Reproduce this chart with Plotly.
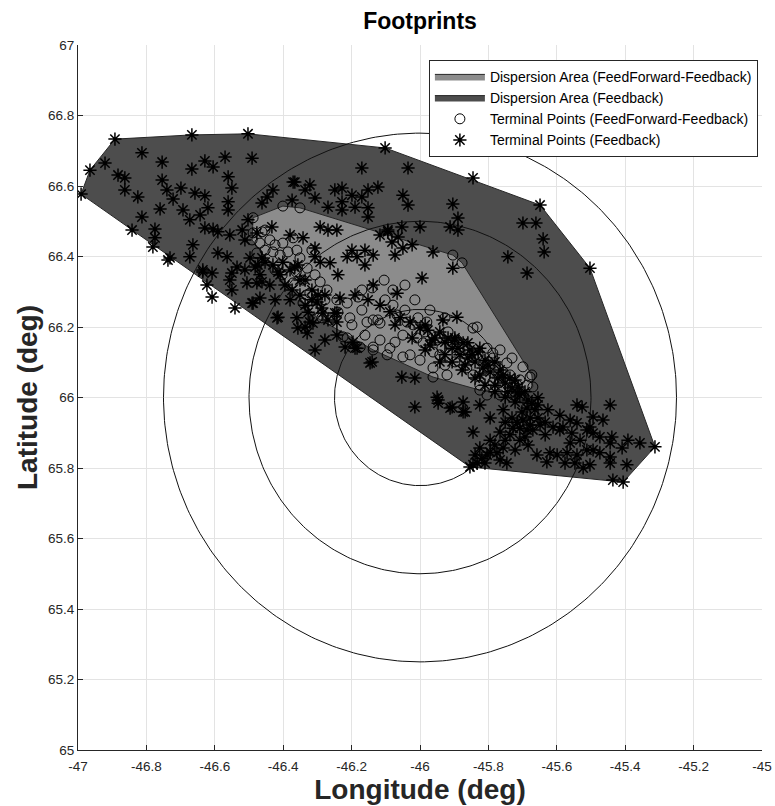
import numpy as np
import plotly.graph_objects as go

# ---------------- data ----------------
# Dispersion area (Feedback) hull, lon/lat in degrees
fb_hull_lon = [-46.991, -46.965, -46.892, -46.667, -46.503, -46.102, -45.649, -45.503,
               -45.313, -45.406, -45.854, -46.842, -46.991]
fb_hull_lat = [66.577, 66.645, 66.733, 66.745, 66.748, 66.708, 66.546, 66.367,
               65.860, 65.760, 65.803, 66.475, 66.577]

# Dispersion area (FeedForward-Feedback) hull
ff_hull_lon = [-46.488, -46.401, -46.351, -45.904, -45.877, -45.673, -45.670, -45.702,
               -45.825, -45.962, -46.137, -46.301, -46.424, -46.491, -46.488]
ff_hull_lat = [66.510, 66.543, 66.538, 66.404, 66.382, 66.064, 66.030, 65.999,
               66.021, 66.058, 66.135, 66.226, 66.362, 66.447, 66.510]

# Terminal points (Feedback)  -- asterisks
fb_lon = [-46.892, -46.667, -46.503, -46.102, -46.965, -46.991, -46.921, -46.813, -46.754, -46.667,
          -46.629, -46.605, -46.570, -46.491, -46.883, -46.863, -46.863, -46.825, -46.754, -46.740,
          -46.722, -46.699, -46.760, -46.693, -46.673, -46.658, -46.629, -46.643, -46.620, -46.561,
          -46.550, -46.561, -46.561, -46.813, -46.842, -46.775, -46.775, -46.781, -46.731, -46.673,
          -46.664, -46.629, -46.605, -46.591, -46.556, -46.520, -46.503, -46.512, -46.477, -46.635,
          -46.608, -46.623, -46.591, -46.564, -46.550, -46.535, -46.506, -46.482, -46.477, -46.550,
          -46.608, -46.541, -46.491, -46.462, -46.415, -46.360, -46.336, -46.313, -46.278, -46.366,
          -46.322, -46.336, -46.249, -46.228, -46.307, -46.269, -46.228, -46.228, -46.199, -46.170,
          -46.152, -46.123, -46.152, -46.152, -46.190, -46.170, -46.035, -46.050, -46.035, -46.094,
          -46.064, -46.053, -46.000, -46.430, -46.447, -46.462, -46.374, -46.371,
          -45.649, -45.503, -45.845, -45.699, -45.661, -45.640, -45.687, -45.743, -45.904, -45.889,
          -45.912, -45.889, -45.637,
          -46.433, -46.292, -46.269, -46.243, -46.307, -46.307, -46.292, -46.263, -46.240, -46.213,
          -46.199, -46.184, -46.161, -46.137, -46.161, -46.117, -46.094, -46.082, -46.050, -46.023,
          -46.073, -45.962, -45.994, -45.904, -46.137, -46.067, -46.190, -46.234, -46.243, -46.284,
          -46.243, -46.243, -46.196, -46.184, -46.140, -45.933, -45.892, -45.825, -45.898, -45.860,
          -46.380, -46.342, -46.366, -46.415, -46.316, -46.301, -46.278,
          -46.737, -46.635, -46.556, -46.488, -46.468, -46.418, -46.357, -46.330, -46.322, -46.307,
          -46.249, -46.219, -46.190, -46.146, -46.053, -46.015, -45.950, -45.947, -46.015, -45.906,
          -45.874, -45.845, -45.845,
          -45.947, -45.912, -45.874, -45.868, -45.795, -45.825, -45.757, -45.716, -45.655, -45.664,
          -45.626, -45.541, -45.526, -45.494, -45.465, -45.444, -45.582, -45.541, -45.503, -45.512,
          -45.532, -45.474, -45.439, -45.392, -45.357, -45.409, -45.313, -45.620, -45.599, -45.570,
          -45.541, -45.512, -45.494, -45.474, -45.444, -45.629, -45.576, -45.547, -45.503, -45.523,
          -45.444, -45.395, -45.436, -45.406, -45.658, -45.670, -45.699, -45.591, -45.494, -45.444,
          -45.561, -45.556, -45.854, -45.833, -45.810, -45.775, -45.746, -45.757, -45.708, -45.728,
          -45.687, -45.649, -45.611, -45.819, -45.795, -45.781, -45.751, -45.737, -45.716, -45.678,
          -45.702, -45.634, -45.684, -45.722, -45.766,
          -46.058, -46.029, -46.000, -45.977, -45.956, -45.927, -45.906, -45.883, -45.860, -45.839,
          -45.816, -45.795, -45.772, -45.751, -45.731, -45.708, -45.684, -45.942, -45.898, -45.854,
          -45.810, -45.766, -45.722, -45.868, -45.825, -45.781, -45.743, -46.088, -46.117, -46.152,
          -46.073, -45.971, -45.927,
          -46.453, -46.409, -46.395, -46.374, -46.351, -46.439, -46.380, -46.336, -46.424, -46.468,
          -45.985, -45.965, -45.918, -45.889, -45.874, -45.848, -45.830, -45.801, -45.781, -45.757,
          -45.737, -45.713, -45.693, -45.673, -45.655, -45.687, -45.722, -45.751, -45.781, -45.810,
          -45.839, -45.877, -45.906, -45.942, -45.985, -46.023,
          -45.751, -45.731, -45.708, -45.678, -45.655, -45.634, -45.693, -45.766, -45.795, -45.825,
          -45.839, -45.804, -45.591, -45.561,
          -46.462, -46.430, -46.401, -46.380, -46.357, -46.336, -46.316, -46.298, -46.351, -46.327,
          -46.287, -46.269, -46.474, -46.497, -46.512]
fb_lat = [66.733, 66.745, 66.748, 66.708, 66.645, 66.577, 66.665, 66.694, 66.668, 66.648,
          66.671, 66.654, 66.682, 66.679, 66.631, 66.623, 66.589, 66.569, 66.617, 66.589,
          66.563, 66.594, 66.535, 66.532, 66.504, 66.580, 66.572, 66.518, 66.538, 66.626,
          66.594, 66.555, 66.532, 66.512, 66.475, 66.478, 66.453, 66.427, 66.396, 66.399,
          66.433, 66.481, 66.478, 66.470, 66.461, 66.475, 66.504, 66.447, 66.467, 66.362,
          66.353, 66.319, 66.410, 66.399, 66.353, 66.370, 66.325, 66.370, 66.325, 66.305,
          66.285, 66.254, 66.268, 66.328, 66.228, 66.226, 66.200, 66.211, 66.163, 66.611,
          66.603, 66.589, 66.589, 66.594, 66.566, 66.540, 66.555, 66.532, 66.574, 66.569,
          66.589, 66.597, 66.538, 66.512, 66.540, 66.651, 66.651, 66.574, 66.546, 66.475,
          66.455, 66.484, 66.484, 66.589, 66.569, 66.552, 66.560, 66.611,
          66.546, 66.367, 66.623, 66.495, 66.495, 66.450, 66.353, 66.399, 66.549, 66.509,
          66.484, 66.475, 66.413,
          66.484, 66.484, 66.475, 66.475, 66.424, 66.399, 66.384, 66.382, 66.348, 66.399,
          66.418, 66.399, 66.418, 66.404, 66.376, 66.461, 66.470, 66.441, 66.424, 66.433,
          66.404, 66.413, 66.339, 66.367, 66.319, 66.296, 66.291, 66.282, 66.240, 66.240,
          66.214, 66.177, 66.157, 66.140, 66.101, 66.220, 66.228, 66.140, 66.169, 66.155,
          66.461, 66.453, 66.370, 66.356, 66.277, 66.271, 66.291,
          66.390, 66.356, 66.333, 66.268, 66.282, 66.226, 66.197, 66.183, 66.214, 66.135,
          66.240, 66.143, 66.140, 66.098, 66.058, 66.055, 66.001, 65.984, 65.973, 65.973,
          65.959, 65.902, 65.809,
          65.993, 65.970, 65.987, 65.959, 65.942, 65.979, 65.965, 66.013, 65.999, 65.965,
          65.965, 65.979, 65.973, 65.945, 65.936, 65.979, 65.916, 65.928, 65.916, 65.908,
          65.879, 65.888, 65.888, 65.879, 65.871, 65.857, 65.860, 65.843, 65.837, 65.843,
          65.837, 65.851, 65.851, 65.843, 65.831, 65.817, 65.814, 65.814, 65.809, 65.800,
          65.814, 65.809, 65.766, 65.760, 65.837, 65.908, 65.936, 65.908, 65.899, 65.871,
          65.871, 65.899, 65.803, 65.814, 65.814, 65.843, 65.814, 65.857, 65.879, 65.913,
          65.908, 65.922, 65.916, 65.828, 65.845, 65.865, 65.879, 65.894, 65.930, 65.942,
          65.959, 65.894, 65.865, 65.851, 65.823,
          66.226, 66.214, 66.197, 66.191, 66.169, 66.157, 66.140, 66.121, 66.112, 66.101,
          66.084, 66.072, 66.055, 66.041, 66.027, 66.007, 65.993, 66.186, 66.163, 66.135,
          66.106, 66.078, 66.050, 66.092, 66.064, 66.035, 66.016, 66.243, 66.262, 66.277,
          66.206, 66.149, 66.121,
          66.384, 66.348, 66.319, 66.305, 66.333, 66.319, 66.277, 66.262, 66.277, 66.348,
          66.206, 66.163, 66.169, 66.140, 66.155, 66.121, 66.129, 66.092, 66.101, 66.064,
          66.055, 66.030, 66.016, 65.984, 65.979, 65.970, 65.987, 66.001, 66.016, 66.035,
          66.055, 66.078, 66.101, 66.101, 66.135, 66.169,
          65.930, 65.942, 65.913, 65.922, 65.942, 65.930, 65.888, 65.902, 65.879, 65.857,
          65.837, 65.837, 65.950, 65.936,
          66.396, 66.376, 66.384, 66.362, 66.376, 66.333, 66.305, 66.291, 66.291, 66.242,
          66.254, 66.220, 66.376, 66.396, 66.362]

# Terminal points (FeedForward-Feedback) -- open circles
ff_lon = [-46.488, -46.468, -46.477, -46.453, -46.430, -46.409, -46.401, -46.371, -46.360, -46.389,
          -46.371, -46.342, -46.322, -46.301, -46.342, -46.313, -46.263, -46.243, -46.213, -46.181,
          -46.140, -46.079, -46.079, -46.137, -46.117, -46.225, -46.175, -46.137, -46.096, -46.050,
          -46.000, -45.991, -45.950, -45.892, -45.833, -45.804, -45.787, -45.746, -45.699, -45.678,
          -45.708, -45.904, -46.067, -46.038, -46.020, -45.980, -46.050, -46.009, -45.962, -45.942,
          -45.912, -45.883, -45.845, -45.787, -45.757, -45.687, -45.716, -45.746, -46.088, -46.029,
          -45.962, -45.921, -45.863, -45.845, -45.825, -45.787, -45.804, -45.766, -45.728, -45.708,
          -46.213, -46.155, -46.123, -46.488, -46.401, -46.351, -45.877, -45.673, -45.670, -45.702,
          -45.825, -45.962, -46.137, -46.301, -46.424, -46.491,
          -45.985, -45.947, -45.918, -45.889, -45.860, -45.830, -45.801, -45.772, -45.737, -45.898,
          -45.936, -46.006, -46.044, -46.102, -46.170, -46.205, -46.272, -46.292, -46.330, -46.439,
          -46.453, -46.351, -46.316, -45.927, -45.810, -45.722, -45.766,
          -46.462, -46.424, -46.386, -46.403, -46.362, -46.307, -46.278, -46.287, -46.240, -46.199,
          -46.161, -46.117, -46.073, -46.170, -46.105, -46.044, -46.015, -45.971, -45.927, -45.766,
          -45.731]
ff_lat = [66.467, 66.438, 66.410, 66.418, 66.413, 66.404, 66.438, 66.453, 66.418, 66.370,
          66.325, 66.333, 66.296, 66.277, 66.268, 66.248, 66.220, 66.277, 66.268, 66.285,
          66.311, 66.305, 66.262, 66.220, 66.211, 66.172, 66.143, 66.143, 66.121, 66.115,
          66.106, 66.155, 66.163, 66.163, 66.200, 66.140, 66.126, 66.098, 66.087, 66.058,
          66.050, 66.404, 66.234, 66.214, 66.206, 66.214, 66.177, 66.169, 66.129, 66.121,
          66.149, 66.129, 66.197, 66.112, 66.072, 66.035, 66.035, 66.044, 66.140, 66.121,
          66.084, 66.064, 66.084, 66.064, 66.035, 66.044, 66.007, 66.007, 66.007, 65.999,
          66.169, 66.214, 66.220, 66.510, 66.543, 66.538, 66.382, 66.064, 66.030, 65.999,
          66.021, 66.058, 66.135, 66.226, 66.362, 66.447,
          66.186, 66.169, 66.186, 66.157, 66.135, 66.121, 66.101, 66.084, 66.064, 66.101,
          66.140, 66.226, 66.248, 66.277, 66.248, 66.226, 66.305, 66.328, 66.367, 66.447,
          66.475, 66.396, 66.418, 66.092, 66.055, 66.027, 66.044,
          66.470, 66.433, 66.413, 66.348, 66.356, 66.348, 66.277, 66.226, 66.242, 66.206,
          66.177, 66.163, 66.157, 66.305, 66.333, 66.319, 66.277, 66.248, 66.226, 66.135,
          66.112]

# Range rings around the reference point
ring_center_lon = -46.0
ring_center_lat = 66.0
ring_radii = [0.25, 0.5, 0.75]

# Axes ticks
x_ticks = [-47, -46.8, -46.6, -46.4, -46.2, -46, -45.8, -45.6, -45.4, -45.2, -45]
x_tick_labels = ["-47", "-46.8", "-46.6", "-46.4", "-46.2", "-46", "-45.8", "-45.6", "-45.4", "-45.2", "-45"]
y_ticks = [65, 65.2, 65.4, 65.6, 65.8, 66, 66.2, 66.4, 66.6, 66.8, 67]
y_tick_labels = ["65", "65.2", "65.4", "65.6", "65.8", "66", "66.2", "66.4", "66.6", "66.8", "67"]

# ---------------- figure ----------------
FONT = "Liberation Sans, Arial, Helvetica, sans-serif"
TXT = "#262626"

fig = go.Figure()

fig.add_trace(go.Scatter(
    x=fb_hull_lon, y=fb_hull_lat, mode="lines", fill="toself",
    fillcolor="#4d4d4d", line=dict(color="#262626", width=1),
    name="Dispersion Area (Feedback)", legendrank=2, hoverinfo="skip"))

fig.add_trace(go.Scatter(
    x=ff_hull_lon, y=ff_hull_lat, mode="lines", fill="toself",
    fillcolor="#8c8c8c", line=dict(color="#262626", width=1),
    name="Dispersion Area (FeedForward-Feedback)", legendrank=1, hoverinfo="skip"))

theta = np.linspace(0, 2 * np.pi, 361)
for r in ring_radii:
    fig.add_trace(go.Scatter(
        x=ring_center_lon + r * np.cos(theta), y=ring_center_lat + r * np.sin(theta),
        mode="lines", line=dict(color="#111111", width=1), showlegend=False, hoverinfo="skip"))

fig.add_trace(go.Scatter(
    x=ff_lon, y=ff_lat, mode="markers",
    marker=dict(symbol="circle-open", size=10, color="black", line=dict(width=1, color="black")),
    name="Terminal Points (FeedForward-Feedback)", legendrank=3))

fig.add_trace(go.Scatter(
    x=fb_lon, y=fb_lat, mode="markers",
    marker=dict(symbol="asterisk-open", size=11, color="black", line=dict(width=1.5, color="black")),
    name="Terminal Points (Feedback)", legendrank=4))

axis_common = dict(
    showgrid=True, gridcolor="#e3e3e3", gridwidth=1,
    showline=True, linecolor=TXT, linewidth=1, mirror=False,
    ticks="inside", ticklen=5, tickcolor=TXT, tickwidth=1,
    tickfont=dict(family=FONT, size=13.5, color=TXT),
    zeroline=False, automargin=False,
)

fig.update_layout(
    width=775, height=806,
    margin=dict(l=78, r=13, t=45, b=56),
    paper_bgcolor="white", plot_bgcolor="white",
    title=dict(text="<b>Footprints</b>", x=0.5, xref="paper", y=1 - 21 / 806,
               yref="container", yanchor="middle",
               font=dict(family=FONT, size=23, color="black")),
    xaxis=dict(range=[-47, -45], tickvals=x_ticks, ticktext=x_tick_labels,
               ticklabelstandoff=4,
               title=dict(text="<b>Longitude (deg)</b>", standoff=2,
                          font=dict(family=FONT, size=28, color=TXT)),
               **axis_common),
    yaxis=dict(range=[65, 67], tickvals=y_ticks, ticktext=y_tick_labels,
               title=dict(text="<b>Latitude (deg)</b>", standoff=2,
                          font=dict(family=FONT, size=28, color=TXT)),
               **axis_common),
    legend=dict(x=0.994, y=0.979, xanchor="right", yanchor="top",
                bgcolor="white", bordercolor="#262626", borderwidth=1,
                font=dict(family=FONT, size=14, color="black"),
                tracegroupgap=0, itemwidth=50),
    showlegend=True,
)

# remove the default page margin so the 775x806 figure fills the window exactly
fig.write_html("out.html",
               config={"displayModeBar": False},
               post_script="document.body.style.margin='0px';document.body.style.overflow='hidden';")
